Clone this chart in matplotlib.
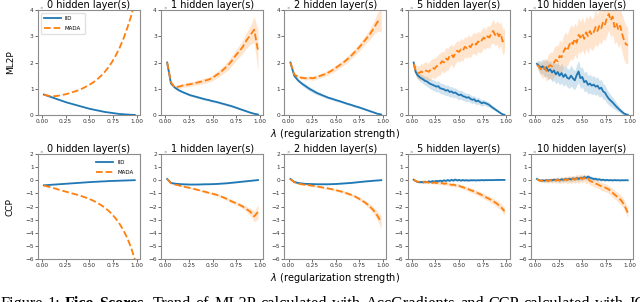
import numpy as np
import matplotlib
matplotlib.use("Agg")
import matplotlib.pyplot as plt

# sampling grids of lambda
lam_a = np.linspace(0.02, 0.98, 25)
lam_b = np.linspace(0.02, 0.98, 49)

titles = ["0 hidden layer(s)", "1 hidden layer(s)", "2 hidden layer(s)",
          "5 hidden layer(s)", "10 hidden layer(s)"]
row_names = ["ML2P", "CCP"]
series_names = ["IID", "MADA"]

# ---------------- ML2P ----------------
ml2p_iid_0 = [0.78, 0.73, 0.68, 0.63, 0.58, 0.53, 0.48, 0.44, 0.40, 0.36, 0.32, 0.28, 0.24,
              0.21, 0.18, 0.15, 0.12, 0.10, 0.08, 0.06, 0.04, 0.03, 0.02, 0.01, 0.005]
ml2p_mada_0 = [0.78, 0.74, 0.72, 0.72, 0.74, 0.77, 0.80, 0.84, 0.89, 0.94, 1.00, 1.07, 1.15,
               1.24, 1.35, 1.48, 1.63, 1.81, 2.02, 2.27, 2.56, 2.90, 3.30, 3.75, 4.25]

ml2p_iid_1 = [2.00, 1.20, 1.05, 0.95, 0.88, 0.82, 0.76, 0.72, 0.68, 0.64, 0.60, 0.57, 0.53,
              0.50, 0.46, 0.42, 0.38, 0.34, 0.29, 0.24, 0.19, 0.14, 0.09, 0.05, 0.02]
ml2p_iid_1_sd = [0.03, 0.04, 0.04, 0.04, 0.04, 0.04, 0.04, 0.04, 0.04, 0.04, 0.04, 0.04, 0.04,
                 0.04, 0.04, 0.04, 0.04, 0.04, 0.03, 0.03, 0.03, 0.03, 0.02, 0.02, 0.02]
ml2p_mada_1 = [2.00, 1.25, 1.05, 1.08, 1.12, 1.15, 1.17, 1.20, 1.24, 1.27, 1.31, 1.35, 1.42,
               1.52, 1.62, 1.75, 1.88, 2.05, 2.25, 2.42, 2.60, 2.85, 3.05, 3.25, 2.45]
ml2p_mada_1_sd = [0.03, 0.05, 0.06, 0.07, 0.07, 0.08, 0.08, 0.08, 0.09, 0.09, 0.10, 0.10, 0.11,
                  0.12, 0.13, 0.15, 0.17, 0.19, 0.20, 0.22, 0.25, 0.30, 0.35, 0.50, 0.80]

ml2p_iid_2 = [2.00, 1.50, 1.32, 1.20, 1.10, 1.00, 0.92, 0.84, 0.78, 0.72, 0.66, 0.62, 0.57,
              0.53, 0.48, 0.43, 0.39, 0.34, 0.30, 0.25, 0.20, 0.15, 0.10, 0.05, 0.02]
ml2p_iid_2_sd = [0.03, 0.05, 0.06, 0.07, 0.08, 0.08, 0.08, 0.07, 0.06, 0.05, 0.05, 0.05, 0.05,
                 0.05, 0.04, 0.04, 0.04, 0.04, 0.04, 0.03, 0.03, 0.03, 0.02, 0.02, 0.02]
ml2p_mada_2 = [2.00, 1.55, 1.45, 1.42, 1.40, 1.42, 1.40, 1.45, 1.50, 1.55, 1.62, 1.70, 1.80,
               1.90, 2.00, 2.12, 2.25, 2.40, 2.55, 2.72, 2.90, 3.08, 3.30, 3.55, 3.62]
ml2p_mada_2_sd = [0.03, 0.05, 0.06, 0.06, 0.07, 0.07, 0.08, 0.08, 0.08, 0.09, 0.09, 0.10, 0.10,
                  0.10, 0.11, 0.12, 0.12, 0.13, 0.14, 0.15, 0.17, 0.20, 0.25, 0.35, 0.45]

ml2p_iid_5 = [2.00, 1.65, 1.52, 1.45, 1.40, 1.36, 1.30, 1.28, 1.22, 1.18, 1.15, 1.12, 1.08,
              1.10, 1.02, 1.00, 0.98, 0.93, 0.95, 0.88, 0.90, 0.84, 0.86, 0.80, 0.76, 0.78,
              0.72, 0.70, 0.66, 0.68, 0.62, 0.58, 0.60, 0.52, 0.55, 0.50, 0.45, 0.48, 0.45,
              0.42, 0.38, 0.32, 0.27, 0.22, 0.17, 0.12, 0.07, 0.03, 0.01]
ml2p_iid_5_sd = [0.05, 0.10, 0.12, 0.14, 0.15, 0.16, 0.17, 0.18, 0.18, 0.19, 0.20, 0.20, 0.20,
                 0.21, 0.20, 0.20, 0.20, 0.20, 0.20, 0.20, 0.19, 0.19, 0.18, 0.18, 0.18, 0.17,
                 0.17, 0.16, 0.16, 0.15, 0.15, 0.14, 0.14, 0.13, 0.13, 0.12, 0.12, 0.11, 0.10,
                 0.10, 0.09, 0.08, 0.07, 0.06, 0.05, 0.04, 0.03, 0.02, 0.02]
ml2p_mada_5 = [1.95, 1.70, 1.62, 1.60, 1.66, 1.62, 1.70, 1.68, 1.65, 1.72, 1.80, 1.76, 1.85,
               1.90, 1.95, 2.05, 2.00, 2.15, 2.10, 2.25, 2.30, 2.20, 2.35, 2.45, 2.40, 2.50,
               2.45, 2.60, 2.55, 2.65, 2.58, 2.70, 2.75, 2.68, 2.80, 2.75, 2.85, 2.95, 2.88,
               3.00, 2.95, 3.10, 3.20, 3.05, 3.15, 3.00, 3.10, 2.80, 2.85]
ml2p_mada_5_sd = [0.10, 0.20, 0.25, 0.28, 0.30, 0.32, 0.35, 0.30, 0.35, 0.38, 0.35, 0.40, 0.38,
                  0.40, 0.42, 0.38, 0.40, 0.45, 0.42, 0.40, 0.38, 0.42, 0.40, 0.38, 0.40, 0.42,
                  0.40, 0.38, 0.40, 0.42, 0.40, 0.38, 0.40, 0.42, 0.38, 0.40, 0.42, 0.40, 0.38,
                  0.40, 0.42, 0.40, 0.45, 0.42, 0.45, 0.48, 0.45, 0.50, 0.45]

ml2p_iid_10 = [1.95, 1.88, 1.80, 1.86, 1.75, 1.82, 1.68, 1.74, 1.62, 1.70, 1.55, 1.64, 1.50,
               1.60, 1.45, 1.55, 1.42, 1.38, 1.50, 1.40, 1.32, 1.52, 1.66, 1.40, 1.45, 1.25,
               1.30, 1.15, 1.20, 1.12, 1.16, 1.08, 1.12, 1.00, 1.04, 0.90, 0.85, 0.72, 0.62,
               0.55, 0.48, 0.40, 0.32, 0.25, 0.18, 0.12, 0.06, 0.03, 0.01]
ml2p_iid_10_sd = [0.10, 0.20, 0.25, 0.28, 0.30, 0.32, 0.35, 0.33, 0.35, 0.38, 0.36, 0.38, 0.35,
                  0.38, 0.36, 0.38, 0.35, 0.37, 0.40, 0.38, 0.36, 0.40, 0.42, 0.40, 0.38, 0.36,
                  0.38, 0.35, 0.36, 0.34, 0.35, 0.33, 0.34, 0.32, 0.32, 0.30, 0.28, 0.26, 0.24,
                  0.22, 0.20, 0.18, 0.15, 0.12, 0.10, 0.08, 0.05, 0.03, 0.02]
ml2p_mada_10 = [1.90, 1.85, 1.75, 1.70, 1.82, 1.68, 1.85, 1.90, 1.85, 2.00, 2.10, 2.05, 2.25,
                2.20, 2.40, 2.55, 2.45, 2.65, 2.80, 2.70, 2.90, 2.75, 3.05, 2.95, 3.10, 2.90,
                3.15, 3.00, 3.20, 3.05, 3.15, 3.35, 3.20, 3.40, 3.30, 3.55, 3.45, 3.70, 3.85,
                3.60, 3.75, 3.35, 3.50, 3.25, 3.40, 3.10, 2.85, 2.70, 2.65]
ml2p_mada_10_sd = [0.10, 0.20, 0.25, 0.30, 0.35, 0.40, 0.45, 0.50, 0.52, 0.55, 0.55, 0.58, 0.60,
                   0.58, 0.60, 0.62, 0.60, 0.62, 0.65, 0.62, 0.60, 0.62, 0.65, 0.60, 0.62, 0.60,
                   0.62, 0.65, 0.62, 0.60, 0.62, 0.65, 0.62, 0.60, 0.62, 0.65, 0.62, 0.65, 0.62,
                   0.65, 0.68, 0.65, 0.70, 0.68, 0.70, 0.72, 0.75, 0.72, 0.70]

# ---------------- CCP ----------------
ccp_iid_0 = [-0.38, -0.36, -0.34, -0.32, -0.30, -0.28, -0.26, -0.24, -0.22, -0.20, -0.18,
             -0.16, -0.14, -0.12, -0.11, -0.09, -0.08, -0.06, -0.05, -0.04, -0.03, -0.02,
             -0.01, 0.00, 0.01]
ccp_mada_0 = [-0.40, -0.47, -0.55, -0.63, -0.72, -0.80, -0.88, -0.96, -1.04, -1.12, -1.21,
              -1.31, -1.42, -1.55, -1.70, -1.87, -2.07, -2.30, -2.58, -2.92, -3.32, -3.80,
              -4.38, -5.10, -6.00]

ccp_iid_1 = [0.10, -0.20, -0.25, -0.28, -0.30, -0.31, -0.32, -0.32, -0.32, -0.31, -0.30,
             -0.30, -0.29, -0.28, -0.26, -0.24, -0.22, -0.19, -0.16, -0.13, -0.10, -0.07,
             -0.04, -0.01, 0.02]
ccp_iid_1_sd = [0.03, 0.04, 0.04, 0.04, 0.04, 0.04, 0.04, 0.04, 0.04, 0.04, 0.04, 0.04, 0.04,
                0.04, 0.04, 0.04, 0.04, 0.04, 0.04, 0.04, 0.04, 0.04, 0.04, 0.04, 0.04]
ccp_mada_1 = [0.10, -0.22, -0.32, -0.38, -0.45, -0.52, -0.58, -0.65, -0.72, -0.80, -0.87,
              -0.95, -1.02, -1.10, -1.20, -1.32, -1.45, -1.60, -1.72, -1.85, -2.00, -2.20,
              -2.40, -2.75, -2.40]
ccp_mada_1_sd = [0.03, 0.04, 0.05, 0.05, 0.05, 0.06, 0.06, 0.06, 0.07, 0.07, 0.08, 0.08, 0.08,
                 0.09, 0.10, 0.10, 0.11, 0.12, 0.13, 0.14, 0.16, 0.20, 0.28, 0.40, 0.55]

ccp_iid_2 = [0.10, -0.12, -0.20, -0.24, -0.27, -0.28, -0.29, -0.30, -0.30, -0.30, -0.30,
             -0.29, -0.28, -0.26, -0.24, -0.22, -0.20, -0.17, -0.14, -0.11, -0.08, -0.06,
             -0.03, -0.01, 0.01]
ccp_iid_2_sd = [0.03, 0.04, 0.04, 0.04, 0.04, 0.04, 0.04, 0.04, 0.04, 0.04, 0.04, 0.04, 0.04,
                0.04, 0.04, 0.04, 0.04, 0.04, 0.04, 0.04, 0.04, 0.04, 0.04, 0.04, 0.04]
ccp_mada_2 = [0.10, -0.15, -0.25, -0.30, -0.35, -0.38, -0.42, -0.47, -0.52, -0.57, -0.62,
              -0.68, -0.75, -0.82, -0.90, -1.00, -1.10, -1.22, -1.38, -1.55, -1.75, -2.00,
              -2.30, -2.70, -3.20]
ccp_mada_2_sd = [0.03, 0.04, 0.05, 0.05, 0.05, 0.06, 0.06, 0.06, 0.07, 0.07, 0.08, 0.08, 0.08,
                 0.09, 0.10, 0.10, 0.11, 0.12, 0.13, 0.14, 0.16, 0.20, 0.25, 0.35, 0.50]

ccp_iid_5 = [0.05, -0.05, -0.12, -0.15, -0.12, -0.16, -0.10, -0.14, -0.08, -0.12, -0.06,
             -0.10, -0.04, -0.08, -0.02, -0.07, 0.00, -0.05, 0.02, -0.04, 0.04, -0.02, 0.06,
             -0.01, 0.03, -0.02, 0.02, -0.01, 0.01, -0.02, 0.01, 0.00, 0.01, -0.01, 0.01, 0.00,
             0.02, 0.00, 0.02, 0.01, 0.02, 0.01, 0.02, 0.02, 0.03, 0.02, 0.03, 0.03, 0.03]
ccp_iid_5_sd = [0.03, 0.05, 0.06, 0.07, 0.08, 0.08, 0.09, 0.09, 0.10, 0.10, 0.10, 0.10, 0.10,
                0.10, 0.10, 0.10, 0.10, 0.10, 0.10, 0.10, 0.10, 0.10, 0.10, 0.09, 0.09, 0.09,
                0.08, 0.08, 0.08, 0.07, 0.07, 0.07, 0.06, 0.06, 0.06, 0.05, 0.05, 0.05, 0.05,
                0.04, 0.04, 0.04, 0.04, 0.04, 0.03, 0.03, 0.03, 0.03, 0.03]
ccp_mada_5 = [0.05, -0.05, -0.10, -0.12, -0.12, -0.10, -0.16, -0.12, -0.18, -0.14, -0.20,
              -0.16, -0.22, -0.18, -0.24, -0.20, -0.27, -0.23, -0.30, -0.30, -0.35, -0.32,
              -0.38, -0.36, -0.42, -0.48, -0.52, -0.58, -0.62, -0.68, -0.75, -0.80, -0.85,
              -0.92, -0.98, -1.05, -1.12, -1.20, -1.28, -1.35, -1.42, -1.50, -1.58, -1.68,
              -1.78, -1.90, -2.02, -2.18, -2.35]
ccp_mada_5_sd = [0.03, 0.05, 0.06, 0.07, 0.08, 0.08, 0.09, 0.09, 0.10, 0.10, 0.10, 0.10, 0.10,
                 0.11, 0.11, 0.11, 0.12, 0.12, 0.12, 0.12, 0.13, 0.13, 0.13, 0.14, 0.14, 0.14,
                 0.15, 0.15, 0.15, 0.16, 0.16, 0.17, 0.17, 0.18, 0.18, 0.19, 0.19, 0.20, 0.20,
                 0.21, 0.22, 0.22, 0.23, 0.24, 0.25, 0.26, 0.27, 0.28, 0.30]

ccp_iid_10 = [0.10, 0.02, -0.02, 0.00, -0.03, 0.02, -0.02, 0.03, 0.00, 0.05, 0.02, 0.06, 0.00,
              0.08, 0.03, 0.10, 0.05, 0.12, 0.06, 0.15, 0.08, 0.18, 0.10, 0.20, 0.15, 0.25,
              0.18, 0.28, 0.20, 0.15, 0.10, 0.12, 0.05, 0.08, 0.02, 0.05, 0.00, 0.03, 0.00,
              0.02, -0.01, 0.02, 0.00, 0.01, -0.01, 0.01, 0.00, 0.01, 0.00]
ccp_iid_10_sd = [0.03, 0.06, 0.08, 0.10, 0.10, 0.11, 0.12, 0.12, 0.13, 0.13, 0.14, 0.14, 0.15,
                 0.15, 0.15, 0.16, 0.16, 0.16, 0.17, 0.17, 0.17, 0.18, 0.18, 0.18, 0.18, 0.18,
                 0.17, 0.17, 0.16, 0.15, 0.14, 0.13, 0.12, 0.11, 0.10, 0.09, 0.08, 0.07, 0.07,
                 0.06, 0.06, 0.05, 0.05, 0.04, 0.04, 0.04, 0.03, 0.03, 0.03]
ccp_mada_10 = [0.10, 0.00, -0.05, -0.02, -0.06, 0.00, -0.05, 0.02, -0.04, 0.03, -0.02, 0.05,
               -0.03, 0.06, 0.00, 0.08, 0.02, 0.10, 0.04, 0.12, 0.05, 0.15, 0.08, 0.18, 0.10,
               0.20, 0.05, 0.12, -0.05, -0.10, -0.20, -0.25, -0.30, -0.38, -0.45, -0.50, -0.55,
               -0.62, -0.70, -0.82, -0.95, -1.08, -1.20, -1.32, -1.45, -1.62, -1.85, -2.15,
               -2.45]
ccp_mada_10_sd = [0.03, 0.08, 0.10, 0.12, 0.14, 0.15, 0.16, 0.17, 0.18, 0.19, 0.20, 0.21, 0.22,
                  0.23, 0.24, 0.25, 0.26, 0.27, 0.28, 0.28, 0.29, 0.30, 0.30, 0.30, 0.30, 0.30,
                  0.30, 0.30, 0.30, 0.30, 0.30, 0.30, 0.30, 0.30, 0.30, 0.30, 0.30, 0.30, 0.30,
                  0.31, 0.32, 0.33, 0.34, 0.35, 0.36, 0.37, 0.38, 0.39, 0.40]

panels = [
    [(lam_a, ml2p_iid_0, None, ml2p_mada_0, None),
     (lam_a, ml2p_iid_1, ml2p_iid_1_sd, ml2p_mada_1, ml2p_mada_1_sd),
     (lam_a, ml2p_iid_2, ml2p_iid_2_sd, ml2p_mada_2, ml2p_mada_2_sd),
     (lam_b, ml2p_iid_5, ml2p_iid_5_sd, ml2p_mada_5, ml2p_mada_5_sd),
     (lam_b, ml2p_iid_10, ml2p_iid_10_sd, ml2p_mada_10, ml2p_mada_10_sd)],
    [(lam_a, ccp_iid_0, None, ccp_mada_0, None),
     (lam_a, ccp_iid_1, ccp_iid_1_sd, ccp_mada_1, ccp_mada_1_sd),
     (lam_a, ccp_iid_2, ccp_iid_2_sd, ccp_mada_2, ccp_mada_2_sd),
     (lam_b, ccp_iid_5, ccp_iid_5_sd, ccp_mada_5, ccp_mada_5_sd),
     (lam_b, ccp_iid_10, ccp_iid_10_sd, ccp_mada_10, ccp_mada_10_sd)],
]
ylims = [(0, 4), (-6, 2)]
yticks = [[0, 1, 2, 3, 4], [-6, -5, -4, -3, -2, -1, 0, 1, 2]]
blue, orange = "#1f77b4", "#ff7f0e"

caption_words = [("Figure", "normal"), ("1:", "normal"), ("Fico", "bold"), ("Scores.", "bold"),
                 ("Trend", "normal"), ("of", "normal"), ("ML2P", "normal"),
                 ("calculated", "normal"), ("with", "normal"), ("AccGradients", "normal"),
                 ("and", "normal"), ("CCP", "normal"), ("calculated", "normal"),
                 ("with", "normal"), ("IG", "normal")]

fig, axes = plt.subplots(2, 5, figsize=(6.4, 3.02), dpi=100)
fig.subplots_adjust(left=0.059, right=0.989, top=0.967, bottom=0.142,
                    wspace=0.206, hspace=0.371)

for r in range(2):
    for c in range(5):
        ax = axes[r, c]
        x, iid, iid_sd, mada, mada_sd = panels[r][c]
        iid = np.array(iid)
        mada = np.array(mada)
        if iid_sd is not None:
            ax.fill_between(x, iid - np.array(iid_sd), iid + np.array(iid_sd),
                            color=blue, alpha=0.2, lw=0)
            ax.fill_between(x, mada - np.array(mada_sd), mada + np.array(mada_sd),
                            color=orange, alpha=0.2, lw=0)
        ax.plot(x, iid, color=blue, lw=1.3, label=series_names[0])
        ax.plot(x, mada, color=orange, lw=1.3, ls="--", label=series_names[1])
        ax.set_xlim(-0.045, 1.035)
        ax.set_ylim(*ylims[r])
        ax.set_xticks([0, 0.25, 0.5, 0.75, 1.0])
        ax.set_xticklabels(["0.00", "0.25", "0.50", "0.75", "1.00"])
        ax.set_yticks(yticks[r])
        ax.tick_params(labelsize=4.2, length=2, width=0.5, pad=1, colors="0.2")
        for s in ax.spines.values():
            s.set_color("0.55")
            s.set_linewidth(0.8)
        ax.set_title(titles[c], fontsize=7, pad=1.5)
        ax.text(0.02, 1.0, "\u00d7", transform=ax.transAxes, fontsize=3,
                color="0.4", va="bottom", ha="left")
    axes[r, 2].set_xlabel("$\\lambda$ (regularization strength)", fontsize=7, labelpad=2)
    fig.text(0.016, [0.793, 0.316][r], row_names[r], rotation=90, fontsize=6.5,
             ha="center", va="center")

axes[0, 0].legend(loc="upper left", fontsize=4, handlelength=3, frameon=True,
                  edgecolor="0.85", fancybox=True, borderpad=0.6, labelspacing=0.8)
axes[1, 0].legend(loc="upper right", fontsize=4, handlelength=3, frameon=False,
                  borderpad=0.6, labelspacing=0.8)

# caption, justified across the width and cut off at the bottom edge like the source
fig.canvas.draw()
rend = fig.canvas.get_renderer()
texts = []
widths = []
for word, w in caption_words:
    t = fig.text(0, -0.019, word, fontsize=11.7, family="Liberation Serif",
                 weight=w, ha="left", va="baseline")
    texts.append(t)
    widths.append(t.get_window_extent(renderer=rend).width)
line_px = 646.0
gap = max((line_px - sum(widths)) / (len(widths) - 1), 3.0)
xpx = 0.0
for t, wd in zip(texts, widths):
    t.set_x(xpx / fig.bbox.width)
    xpx += wd + gap

fig.savefig("out.png", dpi=100)
